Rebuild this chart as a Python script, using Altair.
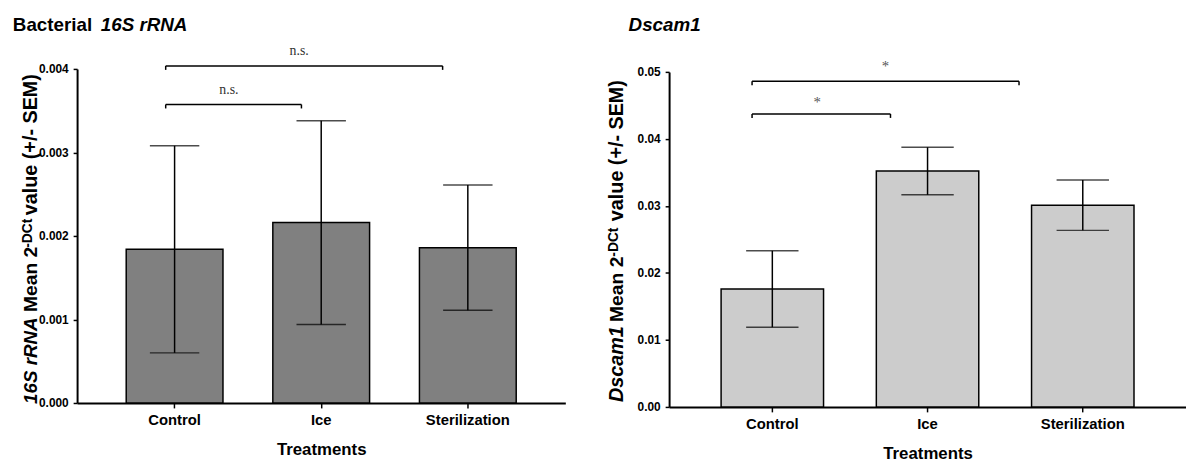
import altair as alt
import pandas as pd

# ---------------- data ----------------
treatments = ["Control", "Ice", "Sterilization"]

bact_mean = [0.00184, 0.00216, 0.00186]
bact_sem = [0.00124, 0.00122, 0.00075]

dscam_mean = [0.0176, 0.0352, 0.0301]
dscam_sem = [0.0057, 0.00355, 0.00375]

bact_ticks = [0.0, 0.001, 0.002, 0.003, 0.004]
dscam_ticks = [0.0, 0.01, 0.02, 0.03, 0.04, 0.05]

bact_br_start = ["Control", "Control"]
bact_br_end = ["Ice", "Sterilization"]
bact_br_y = [0.003574, 0.004036]
bact_br_label = ["n.s.", "n.s."]

dscam_br_start = ["Control", "Control"]
dscam_br_end = ["Ice", "Sterilization"]
dscam_br_y = [0.04372, 0.04860]
dscam_br_label = ["*", "*"]

bact_title = ["Bacterial", "16S rRNA"]
dscam_title = ["Dscam1"]
bact_ylab = ["16S rRNA", "Mean 2", "-DCt", "value (+/- SEM)"]
dscam_ylab = ["Dscam1", "Mean 2", "-DCt", "value (+/- SEM)"]
x_title = "Treatments"

FONT = "Liberation Sans"


def txt(s, x, y, size, italic=False, angle=0, color="black", font=FONT, weight="bold"):
    return alt.Chart(pd.DataFrame({"t": [s]})).mark_text(
        align="left", baseline="alphabetic", font=font, fontSize=size,
        fontWeight=weight, fontStyle="italic" if italic else "normal",
        angle=angle, color=color,
    ).encode(text="t:N", x=alt.value(x), y=alt.value(y))


def panel(means, sems, fill, ticks, fmt, width, height, yrange, cap,
          br_start, br_end, br_y, br_label, br_off_s, br_off_e, br_dx, br_dy,
          lab_font, lab_size, lab_color, title_layers, ylab_layers):
    ymax = ticks[-1]
    xscale = alt.Scale(domain=treatments, paddingInner=0.34, paddingOuter=0.335)
    yscale = alt.Scale(domain=[0, ymax], nice=False, zero=True, range=yrange)
    xaxis = alt.Axis(labelAngle=0, labelFontSize=15, tickSize=5,
                     labelPadding=5, titleFontSize=17, titlePadding=14)
    yaxis = alt.Axis(values=ticks, format=fmt, labelFontSize=12,
                     tickSize=4, labelPadding=5)

    def X(f):
        return alt.X(f, scale=xscale, sort=treatments, axis=xaxis, title=x_title)

    def Y(f):
        return alt.Y(f, scale=yscale, axis=yaxis, title=None)

    df = pd.DataFrame({"treatment": treatments, "mean": means, "sem": sems})
    base = alt.Chart(df).transform_calculate(
        lo="datum.mean - datum.sem", hi="datum.mean + datum.sem"
    )
    bars = base.mark_bar(fill=fill, stroke="black", strokeWidth=1.5).encode(
        x=X("treatment:N"), y=Y("mean:Q"))
    err = base.mark_rule(color="black", strokeWidth=1.5).encode(
        x=X("treatment:N"), y=Y("lo:Q"), y2=alt.Y2("hi:Q", title=None))
    cap_hi = base.mark_tick(color="black", thickness=1.5, size=cap, orient="horizontal").encode(
        x=X("treatment:N"), y=Y("hi:Q"))
    cap_lo = base.mark_tick(color="black", thickness=1.5, size=cap, orient="horizontal").encode(
        x=X("treatment:N"), y=Y("lo:Q"))
    layers = [bars, err, cap_hi, cap_lo]
    for i in range(len(br_y)):
        bdf = pd.DataFrame({"s": [br_start[i]], "e": [br_end[i]], "h": [br_y[i]], "l": [br_label[i]]})
        bc = alt.Chart(bdf)
        line = bc.mark_rule(color="black", strokeWidth=1.5,
                            xOffset=br_off_s[i], x2Offset=br_off_e[i]).encode(
            x=X("s:N"), x2=alt.X2("e:N", title=x_title), y=Y("h:Q"))
        t1 = bc.mark_rule(color="black", strokeWidth=1.5, xOffset=br_off_s[i], y2Offset=4).encode(
            x=X("s:N"), y=Y("h:Q"), y2=alt.Y2("h:Q", title=None))
        t2 = bc.mark_rule(color="black", strokeWidth=1.5, xOffset=br_off_e[i], y2Offset=4).encode(
            x=X("e:N"), y=Y("h:Q"), y2=alt.Y2("h:Q", title=None))
        lab = bc.mark_text(font=lab_font, fontSize=lab_size, color=lab_color,
                           dx=br_dx[i], dy=br_dy[i], baseline="alphabetic").encode(
            x=X("s:N"), y=Y("h:Q"), text="l:N")
        layers += [line, t1, t2, lab]
    layers += title_layers + ylab_layers
    return alt.layer(*layers).properties(width=width, height=height)


left = panel(
    bact_mean, bact_sem, "#808080", bact_ticks, ".3f", 494, 338, [338, 0], 50,
    bact_br_start, bact_br_end, bact_br_y, bact_br_label,
    [-9, -9], [-20, -25.5], [55, 126], [-11, -11],
    "Liberation Serif", 14, "#333333",
    [txt(bact_title[0], -65, -38, 19), txt(bact_title[1], 24, -38, 19, italic=True)],
    [txt(bact_ylab[0], -41, 339, 19, italic=True, angle=270),
     txt(bact_ylab[1], -41, 246, 19.5, angle=270),
     txt(bact_ylab[2], -46, 181, 14, angle=270),
     txt(bact_ylab[3], -41, 148, 20, angle=270)],
)

right = panel(
    dscam_mean, dscam_sem, "#cccccc", dscam_ticks, ".2f", 523, 342, [342, 3], 53,
    dscam_br_start, dscam_br_end, dscam_br_y, dscam_br_label,
    [-20.5, -20.5], [-37.5, -64.5], [45.5, 114.5], [-7, -10],
    "Liberation Serif", 15, "#555555",
    [txt(dscam_title[0], -41, -38, 19, italic=True)],
    [txt(dscam_ylab[0], -47, 337, 20, italic=True, angle=270),
     txt(dscam_ylab[1], -47, 256, 19.5, angle=270),
     txt(dscam_ylab[2], -52, 190, 14, angle=270),
     txt(dscam_ylab[3], -47, 154, 20, angle=270)],
)

chart = alt.hconcat(left, right, spacing=41).properties(
    padding={"left": 13, "top": 14, "right": 0, "bottom": 0}
).configure_view(stroke=None).configure_axis(
    grid=False, domainColor="black", domainWidth=2, tickColor="black",
    tickWidth=1.5, labelColor="black", labelFont=FONT, labelFontWeight="bold",
    titleFont=FONT, titleFontWeight="bold", titleColor="black",
)

chart.save("out.html", embed_options={"renderer": "svg", "actions": False})
